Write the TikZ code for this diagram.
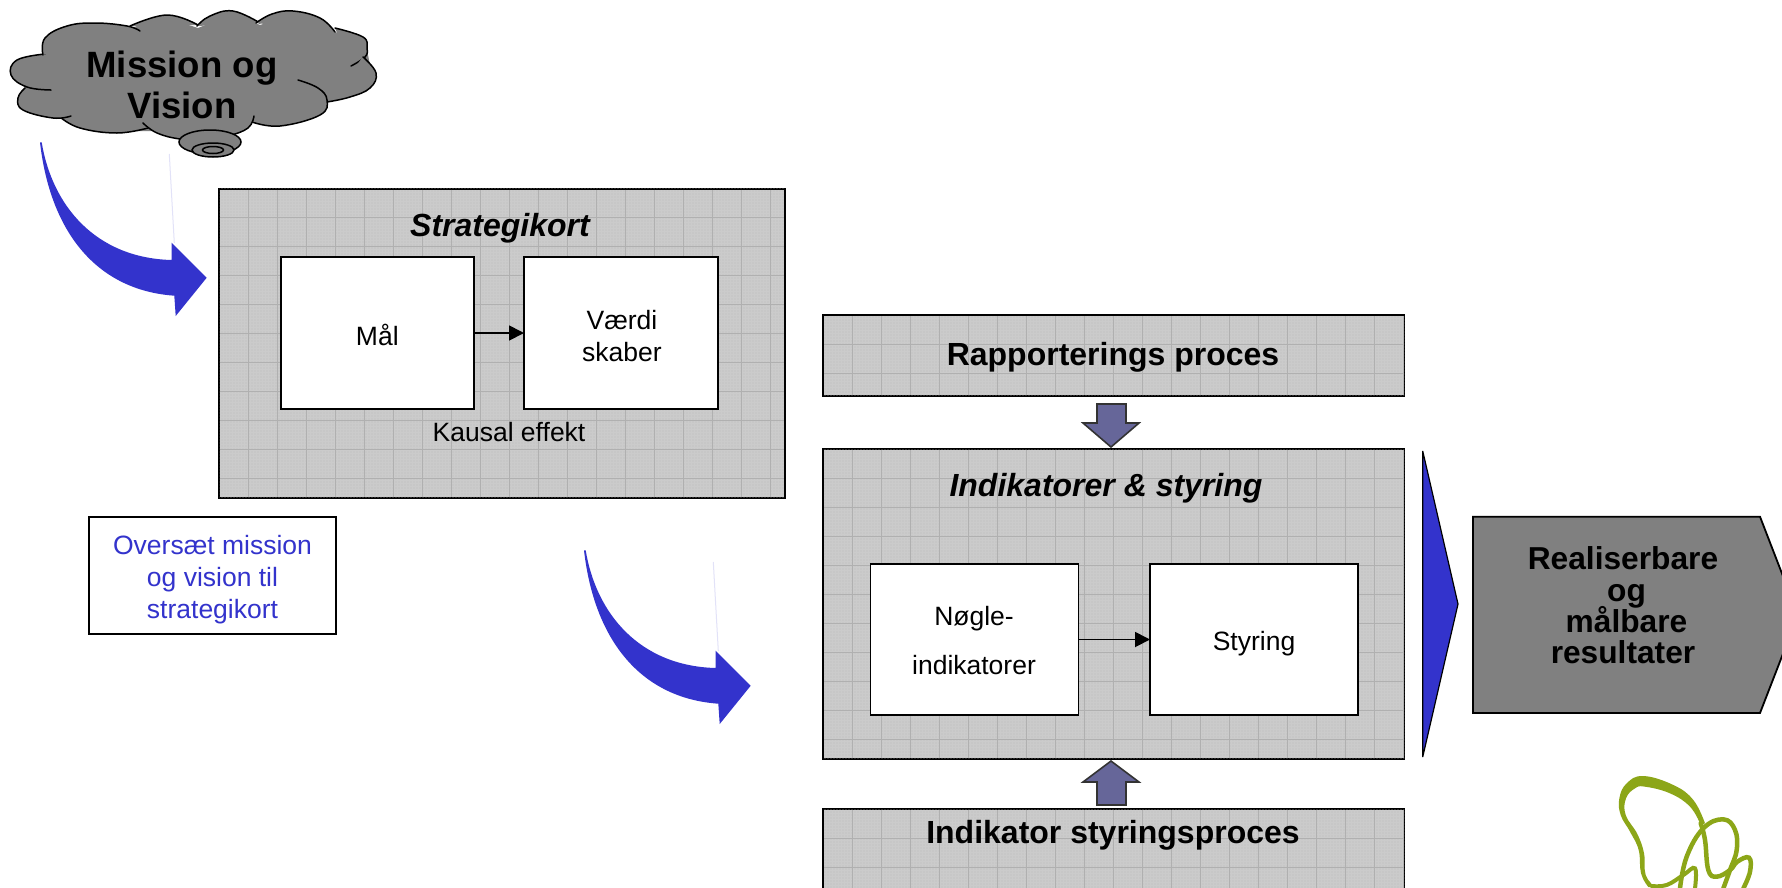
\documentclass[tikz,border=0pt]{standalone}
\usepackage{fontspec}
\setmainfont{Liberation Sans}
\usetikzlibrary{arrows.meta,patterns.meta}
\definecolor{blueA}{HTML}{3333CC}
\definecolor{slateA}{HTML}{666699}
\definecolor{darkgrey}{HTML}{808080}
\definecolor{panel}{HTML}{CBCBCB}
\definecolor{panelspeck}{HTML}{BABABA}
\definecolor{panelgrid}{HTML}{B0B0B0}
\definecolor{olive}{HTML}{8CA618}
\definecolor{faint}{HTML}{E2E2F8}
\newcommand{\fs}[2]{\fontsize{#1}{#2}\selectfont\lineskiplimit=-100pt\relax}
\newcommand{\lobe}[1]{\fill[darkgrey] plot[smooth,tension=0.7] coordinates {#1};\draw[cloudline] plot[smooth,tension=0.7] coordinates {#1};}
% x1 y1 x2 y2 : grid of 29 px cells that starts at the corner of a panel
\newcommand{\cellgrid}[4]{%
  \pgfmathsetmacro{\nxa}{int((#3-#1)/29)}\pgfmathsetmacro{\nya}{int((#4-#2)/29)}%
  \foreach \ii in {1,...,\nxa} {\draw[panelgrid,line width=0.9pt] ({#1+29*\ii},#2+1) -- ({#1+29*\ii},#4-1);}%
  \foreach \ii in {1,...,\nya} {\draw[panelgrid,line width=0.9pt] (#1+1,{#2+29*\ii}) -- (#3-1,{#2+29*\ii});}%
}
\tikzset{
  x=1pt,y=-1pt,
  panelbox/.style={draw=black,line width=1.8pt,inner sep=0pt,outer sep=0pt,
    preaction={fill=panel},
    postaction={pattern={Dots[distance=3pt,radius=0.65pt]},pattern color=panelspeck}},
  whitebox/.style={draw=black,line width=1.8pt,fill=white,inner sep=0pt,outer sep=0pt},
  title/.style={font=\fs{32}{36}\bfseries\itshape,inner sep=0pt},
  headtext/.style={font=\fs{32}{36}\bfseries,inner sep=0pt},
  plain/.style={font=\fs{26.5}{32},inner sep=0pt,align=center},
  flow/.style={line width=1.8pt,-{Triangle[length=15pt,width=15pt]}},
  blockarrow/.style={draw=black!80,line width=1.6pt,fill=slateA,line join=miter},
  cloudline/.style={draw=black,line width=1.5pt,line cap=round},
  curveshape/.pic={
    \fill[blueA] (41.7,142.3) .. controls (52,205) and (95,258) .. (171.7,260)
      -- (171.7,242.7) -- (206.7,277.7) -- (175.7,316) -- (174.3,295.7)
      .. controls (95,290) and (50,230) .. (40,142.3) -- cycle;
    \draw[faint,line width=1pt] (169.3,154) -- (174.3,243);
  }
}
\begin{document}
\begin{tikzpicture}
\path[use as bounding box,clip] (0,0) rectangle (1782,887);
\fill[white] (0,0) rectangle (1782,887);

% cloud
\fill[darkgrey] (45,54)--(95,25)--(130,28)--(167,18)--(198,28)--(233,14)--(260,25)--(293,14)--(335,32)--(365,40)--(372,75)--(327,102)--(280,124)--(252,122)--(210,135)--(157,131)--(117,131)--(60,117)--(25,100)--(25,88)--(15,72)--cycle;
\lobe{(130,26)(167,15)(198,25)}
\lobe{(197,26)(210,16)(233,11)(260,23)}
\lobe{(256,23)(272,14)(293,11)(320,18)(335,32)}
\lobe{(335,28)(363,37)(367,48)(365,57)(351,66)}
\lobe{(363,57)(376,73)(370,88)(350,97)(327,102)}
\lobe{(298,80)(318,88)(327,100)(320,115)(280,126)(252,122)}
\lobe{(254,116)(248,128)(228,136)(205,140)(180,139)(157,133)(143,123)}
\lobe{(148,128)(117,133)(80,128)(60,117)}
\lobe{(71,116)(53,118)(23,110)(18,98)(25,88)}
\lobe{(51,90)(27,87)(11,75)(17,60)(45,54)}
\lobe{(43,55)(45,38)(67,26)(95,23)(127,26)(140,31)}
\draw[cloudline,fill=darkgrey] (210,142) ellipse [x radius=31,y radius=12];
\draw[cloudline,fill=darkgrey] (213,150) ellipse [x radius=21,y radius=7];
\draw[cloudline,fill=darkgrey] (213,150) ellipse [x radius=10.5,y radius=3.5];
\node[font=\fs{36.6}{41}\bfseries,align=center,inner sep=0pt] (cloudtext) at (182,85) {Mission og\\Vision};

% curved arrows
\pic at (0,0) {curveshape};
\pic at (544,408) {curveshape};

% strategy panel
\node[panelbox,minimum width=566pt,minimum height=309pt] (strategi) at (502.3,343.3) {};
\cellgrid{219.3}{188.7}{785.3}{497.8}
\node[title] (strategititle) at (500,228) {Strategikort};
\node[whitebox,minimum width=193pt,minimum height=152pt] (maal) at (377.3,333) {};
\node[plain] (maaltext) at (377.3,335) {Mål};
\node[whitebox,minimum width=194pt,minimum height=152pt] (vaerdi) at (621,333) {};
\node[plain] (vaerditext) at (622,336) {Værdi\\skaber};
\draw[flow] (maal) -- (vaerdi);
\node[plain] (kausal) at (509,432.5) {Kausal effekt};

% translate box
\node[draw=black,line width=1.8pt,fill=white,minimum width=247pt,minimum height=117pt,inner sep=0pt,outer sep=0pt] (oversaet) at (212.5,575.3) {};
\node[plain,text=blueA] (oversaettext) at (212.5,580) {Oversæt mission\\og vision til\\strategikort};

% right column
\node[panelbox,minimum width=581pt,minimum height=81pt] (rapport) at (1113.5,355.5) {};
\cellgrid{823}{315}{1404}{396}
\node[headtext] (rapporttext) at (1113,357.5) {Rapporterings proces};
\node[panelbox,minimum width=581pt,minimum height=310pt] (indik) at (1113.5,604) {};
\cellgrid{823}{449}{1404}{759}
\node[title] (indiktext) at (1106,488.5) {Indikatorer \& styring};
\node[whitebox,minimum width=208pt,minimum height=151pt] (noegle) at (974.5,639.5) {};
\node[plain,font=\fs{26.5}{49}] (noegletext) at (974,641) {Nøgle-\\indikatorer};
\node[whitebox,minimum width=208pt,minimum height=151pt] (styring) at (1254,639.5) {};
\node[plain] (styringtext) at (1254,644) {Styring};
\draw[flow] (noegle) -- (styring);
\node[panelbox,minimum width=581pt,minimum height=140pt] (styrproc) at (1113.5,879) {};
\cellgrid{823}{809}{1404}{949}
\node[headtext] (styrproctext) at (1113,835.5) {Indikator styringsproces};

% block arrows
\draw[blockarrow] (1097,404)--(1126,404)--(1126,423)--(1139,423)--(1111,447)--(1083,423)--(1097,423)--cycle;
\draw[blockarrow] (1097,805)--(1126,805)--(1126,782)--(1139,782)--(1111,761)--(1083,782)--(1097,782)--cycle;

% blue triangle
\draw[black,line width=1.2pt,fill=blueA,line join=bevel] (1422.7,451)--(1458,604)--(1422.7,757)--cycle;

% result pentagon
\draw[black,line width=1.8pt,fill=darkgrey,line join=miter] (1473,516.7)--(1760,516.7)--(1798,615)--(1760,713)--(1473,713)--cycle;
\node[font=\fs{31.7}{31.4}\bfseries,align=center,inner sep=0pt] (result) at (1623,605.5) {Realiserbare\\\hspace*{7pt}og\\\hspace*{7pt}målbare\\resultater};

% logo
\begin{scope}[shift={(1580,760)},scale=1/3]
\fill[olive] plot[smooth,tension=0.7] coordinates {(375,190)(340,120)(280,75)(190,48)(140,70)(118,115)(122,165)(150,215)(176,270)(183,340)(205,381)}
  -- (225,381) -- plot[smooth,tension=0.7] coordinates {(225,381)(197,345)(192,280)(172,222)(137,165)(138,115)(165,85)(195,80)(270,100)(330,140)(362,195)} -- cycle;
\draw[olive,line width=4.5pt,line cap=round] plot[smooth,tension=0.7] coordinates {(362,190)(375,240)(385,330)(410,350)(450,330)(472,305)(507,293)(510,335)(490,385)};
\draw[olive,line width=4.5pt,line cap=round] plot[smooth,tension=0.7] coordinates {(300,385)(320,290)(370,205)(430,178)(465,210)(470,270)(450,330)(430,385)};
\draw[olive,line width=4pt,line cap=round] plot[smooth,tension=0.7] coordinates {(215,378)(260,375)(310,345)(345,325)(345,385)};
\end{scope}
\end{tikzpicture}
\end{document}
